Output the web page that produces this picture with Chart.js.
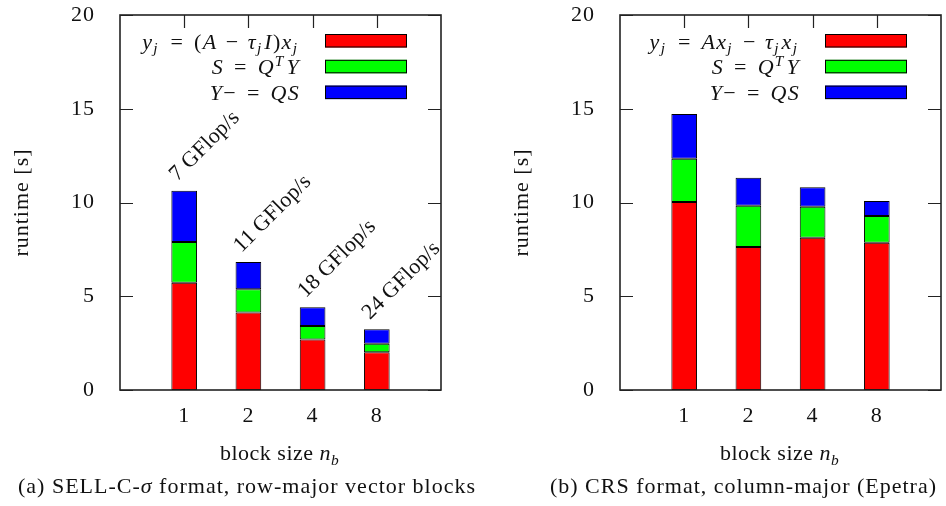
<!DOCTYPE html>
<html>
<head>
<meta charset="utf-8">
<script src="https://cdn.jsdelivr.net/npm/chart.js@4"></script>
<style>
  html, body { margin: 0; padding: 0; background: #fff; }
  #wrap { position: relative; width: 946px; height: 506px; overflow: hidden; }
  canvas { position: absolute; top: 0; }
</style>
</head>
<body>
<div id="wrap">
  <canvas id="sell" width="500" height="506" style="left:0"></canvas>
  <canvas id="crs" width="446" height="506" style="left:500px"></canvas>
</div>
<script>
// Block sizes along the x axis and their slot positions
const blockSizes = ['1', '2', '4', '8'];
const blockPos = [1, 2, 3, 4];

// Runtime axis
const yMin = 0;
const yMax = 20;
const yStep = 5;

// (a) SELL-C-sigma, row-major vector blocks: runtime [s] per kernel
const sellShift = [5.72, 4.14, 2.70, 2.01];
const sellProject = [2.17, 1.23, 0.71, 0.46];
const sellUpdate = [2.74, 1.46, 1.00, 0.77];
const sellRates = [7, 11, 18, 24]; // GFlop/s

// (b) CRS, column-major (Epetra): runtime [s] per kernel
const crsShift = [10.03, 7.63, 8.12, 7.86];
const crsProject = [2.31, 2.20, 1.66, 1.42];
const crsUpdate = [2.38, 1.49, 1.03, 0.80];

const seriesColors = ['#ff0000', '#00ff00', '#0000ff'];

// Rich-text labels: [text, style] pieces, or a number = horizontal gap in em.
// style: '' roman, 'i' italic, 'is' italic subscript, 'ip' italic superscript
const REL = 0.45;  // gap around a relation sign
const BIN = 0.38;  // gap around a binary operator
const sellLegend = [
  [['y', 'i'], ['j', 'is'], REL, ['=', ''], REL, ['(', ''], ['A', 'i'], BIN, ['−', ''], BIN, ['τ', 'i'], ['j', 'is'], ['I', 'i'], [')', ''], ['x', 'i'], ['j', 'is']],
  [['S', 'i'], REL, ['=', ''], REL, ['Q', 'i'], ['T', 'ip'], ['Y', 'i']],
  [['Y', 'i'], ['−', ''], REL, ['=', ''], REL, ['Q', 'i'], ['S', 'i']]
];
const crsLegend = [
  [['y', 'i'], ['j', 'is'], REL, ['=', ''], REL, ['A', 'i'], ['x', 'i'], ['j', 'is'], BIN, ['−', ''], BIN, ['τ', 'i'], ['j', 'is'], ['x', 'i'], ['j', 'is']],
  [['S', 'i'], REL, ['=', ''], REL, ['Q', 'i'], ['T', 'ip'], ['Y', 'i']],
  [['Y', 'i'], ['−', ''], REL, ['=', ''], REL, ['Q', 'i'], ['S', 'i']]
];
const xTitle = [['block size ', ''], ['n', 'i'], ['b', 'is']];
const sellCaption = [['(a) SELL-C-', ''], ['σ', 'i'], [' format, row-major vector blocks', '']];
const crsCaption = [['(b) CRS format, column-major (Epetra)', '']];

const FAMILY = '"Liberation Serif", "Times New Roman", serif';
const SIZE = 22;
const INK = '#111';

function segFont(style, size) {
  const it = style.includes('i') ? 'italic ' : '';
  const small = style.includes('s') || style.includes('p');
  return `${it}${small ? size * 0.7 : size}px ${FAMILY}`;
}

// advance of one piece; sub/superscripts get a little air after them
function segAdvance(ctx, seg, size) {
  if (typeof seg === 'number') return seg * size;
  const [t, st] = seg;
  ctx.font = segFont(st, size);
  const w = ctx.measureText(t).width;
  return (st.includes('s') || st.includes('p')) ? w + size * 0.08 : w;
}

function richWidth(ctx, segs, size) {
  return segs.reduce((w, seg) => w + segAdvance(ctx, seg, size), 0);
}

function drawRich(ctx, segs, x, y, size, align, spacing) {
  ctx.letterSpacing = spacing;
  const w = richWidth(ctx, segs, size);
  let cx = align === 'right' ? x - w : align === 'center' ? x - w / 2 : x;
  ctx.textAlign = 'left';
  ctx.textBaseline = 'alphabetic';
  segs.forEach(seg => {
    if (typeof seg !== 'number') {
      const [t, st] = seg;
      ctx.font = segFont(st, size);
      const dy = st.includes('s') ? size * 0.22 : st.includes('p') ? -size * 0.38 : 0;
      ctx.fillText(t, cx, y + dy);
    }
    cx += segAdvance(ctx, seg, size);
  });
}

// Frame, inside ticks, key, rate labels, axis title and caption
const panelDecor = {
  id: 'panelDecor',
  beforeDraw(chart) {
    chart.ctx.letterSpacing = '1px';
  },
  afterDatasetsDraw(chart, args, opts) {
    const { ctx, chartArea: a, scales: { x, y } } = chart;
    ctx.save();
    ctx.strokeStyle = '#222';
    ctx.lineWidth = 1.2;
    ctx.beginPath();
    y.ticks.forEach(t => {
      const py = Math.round(y.getPixelForValue(t.value)) + 0.5;
      ctx.moveTo(a.left, py); ctx.lineTo(a.left + 13, py);
      ctx.moveTo(a.right - 13, py); ctx.lineTo(a.right, py);
    });
    x.ticks.forEach(t => {
      const px = Math.round(x.getPixelForValue(t.value)) + 0.5;
      ctx.moveTo(px, a.top); ctx.lineTo(px, a.top + 13);
    });
    ctx.stroke();
    ctx.lineWidth = 1.6;
    ctx.strokeRect(a.left, a.top, a.right - a.left, a.bottom - a.top);

    // key: text right-aligned, swatch to the right
    chart.data.datasets.forEach((ds, k) => {
      const top = a.top + 19 + k * 25.8;
      ctx.fillStyle = ds.backgroundColor;
      ctx.fillRect(a.left + 205, top, 82, 13.5);
      ctx.lineWidth = 1;
      ctx.strokeStyle = '#000';
      ctx.strokeRect(a.left + 205.5, top + 0.5, 81, 12.5);
      ctx.fillStyle = INK;
      drawRich(ctx, opts.legend[k], a.left + 180, top + 14.5, SIZE, 'right', '1.3px');
    });

    // throughput labels above each stack
    if (opts.rates) {
      const meta = chart.getDatasetMeta(chart.data.datasets.length - 1);
      ctx.font = `${SIZE}px ${FAMILY}`;
      ctx.letterSpacing = '0.2px';
      ctx.fillStyle = INK;
      ctx.textAlign = 'left';
      ctx.textBaseline = 'alphabetic';
      meta.data.forEach((bar, i) => {
        const p = bar.getProps(['x', 'y', 'width'], true);
        ctx.save();
        ctx.translate(p.x - p.width / 2 + 6, p.y - 9);
        ctx.rotate(-Math.PI / 4);
        ctx.fillText(`${opts.rates[i]} GFlop/s`, 0, 0);
        ctx.restore();
      });
    }

    ctx.fillStyle = INK;
    drawRich(ctx, xTitle, (a.left + a.right) / 2, 460, SIZE, 'center', '0.5px');
    drawRich(ctx, opts.caption, opts.captionX, 493, SIZE, 'center', '1px');
    ctx.restore();
  }
};

function makePanel(id, width, values, legend, caption, captionX, rates) {
  const names = ['shift', 'project', 'update'];
  return new Chart(document.getElementById(id), {
    type: 'bar',
    data: {
      datasets: values.map((vals, k) => ({
        label: names[k],
        data: vals.map((v, i) => ({ x: blockPos[i], y: v })),
        backgroundColor: seriesColors[k],
        borderColor: '#000',
        borderWidth: 1,
        borderSkipped: false,
        barPercentage: 0.4,
        categoryPercentage: 1
      }))
    },
    options: {
      responsive: false,
      animation: false,
      events: [],
      layout: { padding: { left: 0, top: 15, right: width - 441, bottom: 0 } },
      plugins: {
        legend: { display: false },
        tooltip: { enabled: false },
        panelDecor: { legend, caption, captionX, rates }
      },
      scales: {
        x: {
          type: 'linear',
          min: 0,
          max: 5,
          offset: false,
          stacked: true,
          grid: { display: false, drawTicks: false },
          border: { display: false },
          afterBuildTicks: s => { s.ticks = blockPos.map(v => ({ value: v })); },
          afterFit: s => { s.height = 116; s.paddingLeft = 0; s.paddingRight = 0; },
          ticks: {
            padding: 13,
            color: INK,
            maxRotation: 0,
            autoSkip: false,
            font: { family: FAMILY, size: SIZE },
            callback: v => { const i = blockPos.indexOf(v); return i >= 0 ? blockSizes[i] : ''; }
          }
        },
        y: {
          min: yMin,
          max: yMax,
          stacked: true,
          grid: { display: false, drawTicks: false },
          border: { display: false },
          afterFit: s => { s.width = 120; s.paddingTop = 0; s.paddingBottom = 0; },
          ticks: { stepSize: yStep, padding: 25, color: INK, font: { family: FAMILY, size: SIZE } },
          title: {
            display: true,
            text: 'runtime [s]',
            color: INK,
            padding: { top: 9, bottom: 0 },
            font: { family: FAMILY, size: SIZE }
          }
        }
      }
    },
    plugins: [panelDecor]
  });
}

makePanel('sell', 500, [sellShift, sellProject, sellUpdate], sellLegend, sellCaption, 247, sellRates);
makePanel('crs', 446, [crsShift, crsProject, crsUpdate], crsLegend, crsCaption, 743.5 - 500, null);
</script>
</body>
</html>
